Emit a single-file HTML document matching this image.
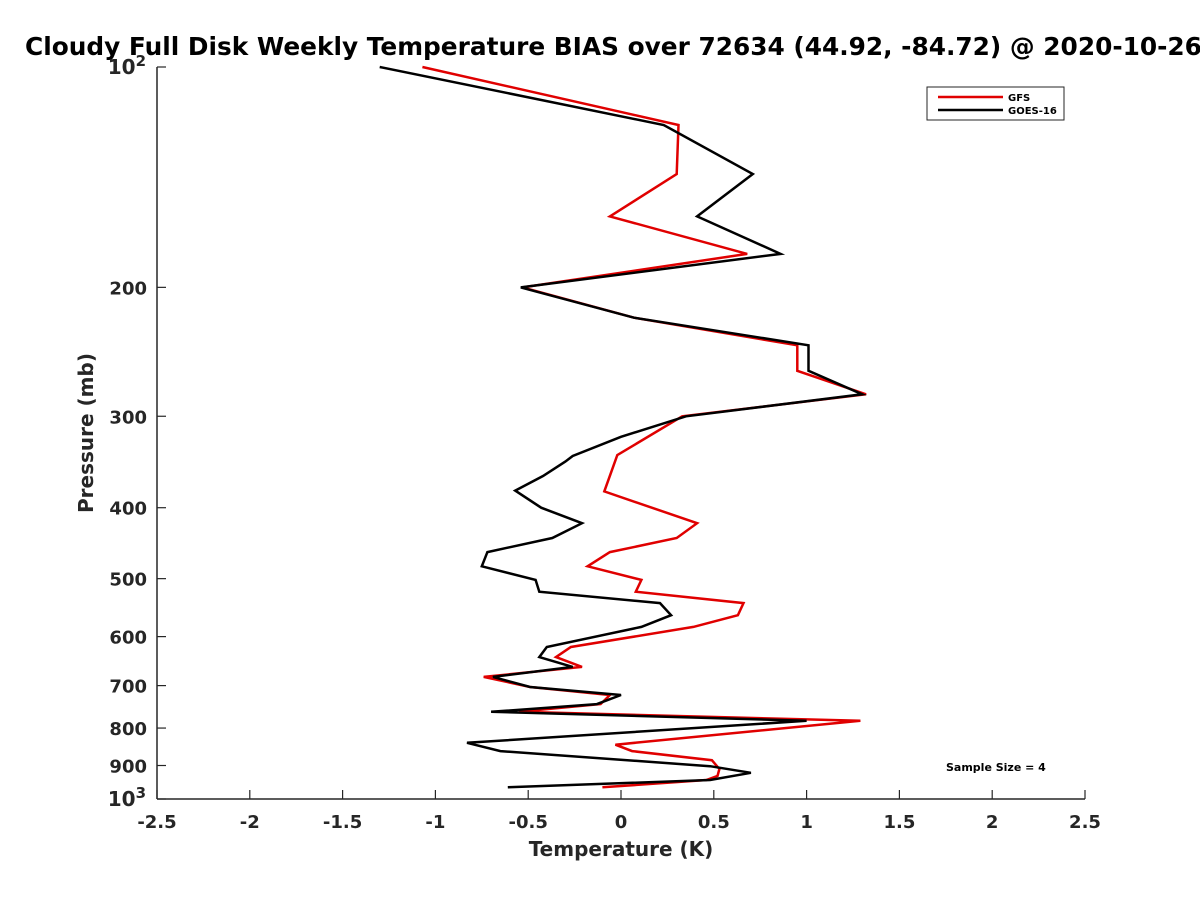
<!DOCTYPE html>
<html><head><meta charset="utf-8"><style>
body{margin:0;background:#fff}
svg text{font-family:"DejaVu Sans","Liberation Sans",sans-serif;font-weight:bold}
</style></head><body>
<svg id="chart" width="1200" height="900" xmlns="http://www.w3.org/2000/svg">
<text x="25" y="55" font-size="24.8" fill="#000">Cloudy Full Disk Weekly Temperature BIAS over 72634 (44.92, -84.72) @ 2020-10-26</text>
<g id="axes"></g>
<g id="series"></g>
<g>
<rect x="927" y="87" width="137" height="33" fill="#fff" stroke="#262626" stroke-width="1"/>
<line x1="938" y1="97" x2="1003" y2="97" stroke="#e00000" stroke-width="2.5"/>
<text x="1008" y="101" font-size="10">GFS</text>
<line x1="938" y1="110" x2="1003" y2="110" stroke="#000" stroke-width="2.5"/>
<text x="1008" y="114" font-size="10">GOES-16</text>
</g>
<text x="946" y="771" font-size="11">Sample Size = 4</text>
<text x="621" y="856" font-size="20" text-anchor="middle" fill="#262626">Temperature (K)</text>
<text transform="translate(93,433) rotate(-90)" font-size="20" text-anchor="middle" fill="#262626">Pressure (mb)</text>
</svg>
<script>
const xTicks=[-2.5,-2,-1.5,-1,-0.5,0,0.5,1,1.5,2,2.5];
const xTickLabels=["-2.5","-2","-1.5","-1","-0.5","0","0.5","1","1.5","2","2.5"];
const yTicks=[100,200,300,400,500,600,700,800,900,1000];
const yTickLabels=["10²","200","300","400","500","600","700","800","900","10³"];
const gfsPressure=[100,120,140,160,180,200,220,240,260,280,300,339,380,420,440,460,481,502,521,540,561,582,620,640,660,681,703,721,742,760,782,843,860,885,910,930,942,964];
const gfsBias=[-1.07,0.31,0.30,-0.06,0.68,-0.53,0.07,0.95,0.95,1.32,0.33,-0.02,-0.09,0.41,0.30,-0.06,-0.18,0.11,0.08,0.66,0.63,0.39,-0.27,-0.35,-0.21,-0.74,-0.49,-0.06,-0.11,-0.55,1.29,-0.03,0.06,0.49,0.53,0.52,0.46,-0.10];
const goesPressure=[100,120,140,160,180,200,220,240,260,280,300,320,340,346,362,379,400,420,440,460,481,502,521,540,561,582,620,640,660,681,703,721,742,760,782,838,860,902,921,942,964];
const goesBias=[-1.30,0.23,0.71,0.41,0.86,-0.54,0.07,1.01,1.01,1.30,0.35,0.0,-0.26,-0.30,-0.42,-0.57,-0.43,-0.21,-0.37,-0.72,-0.75,-0.46,-0.44,0.21,0.27,0.11,-0.40,-0.44,-0.26,-0.69,-0.49,0.0,-0.13,-0.70,1.00,-0.83,-0.65,0.48,0.70,0.48,-0.61];

const X0=157,X1=1085,Y0=67,Y1=799;
const xs=v=>X0+(v+2.5)/5*(X1-X0);
const ys=p=>Y0+Math.log10(p/100)*(Y1-Y0);
const NS="http://www.w3.org/2000/svg";
const axes=document.getElementById('axes'), series=document.getElementById('series');
function mk(tag,attrs,parent){const e=document.createElementNS(NS,tag);for(const k in attrs)e.setAttribute(k,attrs[k]);parent.appendChild(e);return e;}

let l=mk('line',{x1:X0,y1:Y0,x2:X0,y2:Y1,stroke:'#262626','stroke-width':1.5},axes);


l=mk('line',{x1:X0,y1:Y1,x2:X1,y2:Y1,stroke:'#262626','stroke-width':1.5},axes);



xTicks.forEach((v,i)=>{
  const x=xs(v);
  const t=mk('line',{x1:x,y1:Y1,x2:x,y2:Y1-9,stroke:'#262626','stroke-width':1.2},axes);
  
  
  const tx=mk('text',{x:x,y:Y1+29,'font-size':18,'text-anchor':'middle',fill:'#262626'},axes);
  tx.textContent=xTickLabels[i];
  
  
});
yTicks.forEach((p,i)=>{
  const y=ys(p);
  const t=mk('line',{x1:X0,y1:y,x2:X0+9,y2:y,stroke:'#262626','stroke-width':1.2},axes);
  
  
  const lab=yTickLabels[i];
  const tx=mk('text',{x:X0-10,y:y+7,'font-size':18,'text-anchor':'end',fill:'#262626'},axes);
  
  
  if(lab.length===3&&(lab[2]==='²'||lab[2]==='³')){
    tx.setAttribute('font-size',20);
    const a=mk('tspan',{},tx);a.textContent='10';
    const b=mk('tspan',{dy:-8,'font-size':15},tx);b.textContent=lab[2]==='²'?'2':'3';
    tx.setAttribute('x',X0-11);
  } else tx.textContent=lab;
});

function drawLine(pr,vals,color,name){
  const d=pr.map((p,i)=>(i?'L':'M')+xs(vals[i]).toFixed(1)+','+ys(p).toFixed(1)).join(' ');
  const path=mk('path',{d:d,fill:'none',stroke:color,'stroke-width':2.5,'stroke-linejoin':'miter'},series);
  
  
}
drawLine(gfsPressure,gfsBias,'#e00000','gfs-line');
drawLine(goesPressure,goesBias,'#000000','goes16-line');
</script>
</body></html>
